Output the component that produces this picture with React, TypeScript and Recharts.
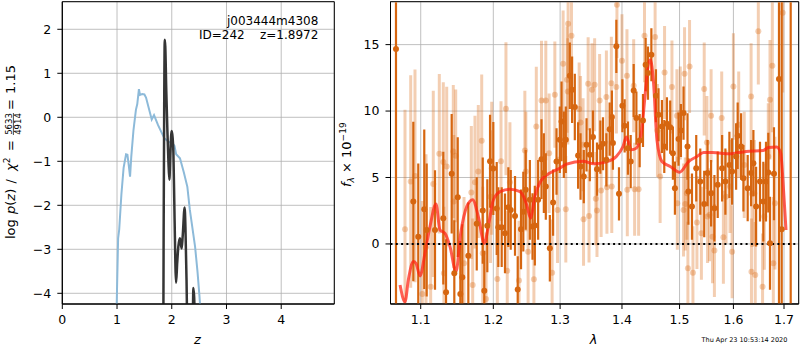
import React from 'react';
import {
  LineChart, Line, XAxis, YAxis, CartesianGrid, ReferenceArea,
  ComposedChart, Scatter, ErrorBar, ReferenceLine,
} from 'recharts';

// ---------- Left panel: log p(z) ----------
const zTicks = [0, 1, 2, 3, 4];
const logpTicks = [-4, -3, -2, -1, 0, 1, 2];
const blueZ = [0.99, 1.0, 1.02, 1.04, 1.08, 1.12, 1.165, 1.19, 1.215, 1.238, 1.26, 1.3, 1.345, 1.37, 1.4, 1.42, 1.46, 1.5, 1.53, 1.634, 1.676, 1.75, 1.865, 1.95, 2.0, 2.03, 2.05, 2.08, 2.15, 2.22, 2.285, 2.33, 2.426, 2.47, 2.505, 2.53];
const blueLogP = [-4.5, -3.9, -2.75, -2.55, -1.75, -1.15, -0.84, -0.85, -1.1, -1.35, -0.9, -0.3, 0.17, 0.3, 0.64, 0.51, 0.53, 0.52, 0.45, -0.05, 0.05, -0.18, -0.48, -0.56, -0.59, -0.62, -0.65, -0.84, -0.93, -1.25, -1.58, -2.1, -2.94, -3.5, -4.04, -4.5];
const blackZ = [1.846, 1.852, 1.862, 1.872, 1.882, 1.9, 1.92, 1.938, 1.956, 1.975, 1.998, 2.015, 2.03, 2.05, 2.079, 2.1, 2.12, 2.15, 2.18, 2.2, 2.235, 2.25, 2.27, 2.285, 2.33, 2.383, 2.395, 2.41, 2.425];
const blackLogP: (number | null)[] = [-5, -2.5, 0.3, 1.76, 1.6, 0.6, -0.3, -0.97, -1.42, -0.8, -0.31, -0.45, -0.8, -2.2, -3.76, -3.3, -2.94, -2.75, -2.98, -2.7, -2.05, -2.5, -3.7, -5, null, -5, -3.88, -4.1, -5];

// ---------- Right panel: spectrum ----------
const lamTicks = [1.1, 1.2, 1.3, 1.4, 1.5, 1.6, 1.7];
const fluxTicks = [0, 5, 10, 15];

const darkLam = [1.0679, 1.0903, 1.0968, 1.1047, 1.1079, 1.119, 1.1302, 1.1339, 1.1416, 1.1452, 1.1499, 1.1535, 1.1562, 1.1646, 1.1764, 1.1849, 1.1871, 1.1914, 1.1953, 1.2, 1.2049, 1.2072, 1.2121, 1.2169, 1.2218, 1.2253, 1.2316, 1.2356, 1.2405, 1.2439, 1.2475, 1.2537, 1.2577, 1.2612, 1.2662, 1.2713, 1.2749, 1.2779, 1.2841, 1.2891, 1.2944, 1.2995, 1.3022, 1.3058, 1.3089, 1.3152, 1.3188, 1.3231, 1.3283, 1.3322, 1.3374, 1.3418, 1.3471, 1.3522, 1.3587, 1.3642, 1.3685, 1.3741, 1.3795, 1.3832, 1.3849, 1.3906, 1.395, 1.4007, 1.4045, 1.4101, 1.4147, 1.4198, 1.4244, 1.43, 1.4357, 1.4403, 1.4443, 1.4502, 1.4582, 1.4627, 1.4687, 1.4728, 1.4775, 1.4833, 1.4881, 1.4917, 1.4982, 1.5025, 1.5072, 1.5144, 1.516, 1.5225, 1.5303, 1.5377, 1.545, 1.5512, 1.5578, 1.564, 1.5702, 1.5785, 1.5847, 1.5923, 1.5975, 1.6052, 1.6082, 1.6148, 1.6193, 1.6276, 1.6343, 1.6388, 1.6441, 1.6518, 1.6584, 1.6637, 1.6683, 1.6717, 1.6797, 1.6898, 1.6953, 1.7137];
const darkFlux = [14.67, 3.19, 0.55, 2.61, 1.05, 1.05, 1.94, -3.64, 5.28, -2.21, 3.52, -3.77, -2.51, -0.88, 1.51, 2.51, -3.52, 1.36, 6.23, 5.67, 2.66, 1.26, 1.26, 0.8, 2.77, 2.56, 2.11, -3.42, 1.1, 2.43, 4.07, 3.32, 1.31, 1.38, 3.32, 6.38, 5.33, 4.32, -0.33, 3.11, 6.2, 7.84, 9.22, 7.46, 7.84, 12.66, 11.6, 10.3, 6.65, 5.83, 5.07, 7.46, 6.71, 8.04, 5.63, 7.29, 7.54, 6.33, 8.64, 9.55, 7.59, 14.87, 3.77, 10.4, 8.89, 7.21, 6.2, 11.55, 9.47, 7.78, 9.29, 13.49, 12.86, 14.24, 11.15, 9.72, 8.84, 7.33, 9.04, 8.79, 6.83, 4.2, 7.89, 8.54, 9.85, 7.33, 3.94, 2.81, 5.7, 4.69, 3.01, 5.33, 3.82, 2.69, 4.45, 5.7, 4.69, 5.95, 5.45, 6.58, 8.14, 7.33, 4.95, 4.2, 5.33, 6.08, 2.81, 4.69, 3.19, 4.69, 5.37, 0.05, 5.28, 12.41, 1.1, 22];
const darkErr = [25, 6, 5.5, 6, 5, 4.5, 5, 4, 4.5, 4, 4.5, 4, 4, 4, 3.5, 4, 3, 3.5, 3.5, 3.5, 3.5, 3, 3, 3, 3, 3, 3, 2.5, 3, 3, 3, 3, 2.5, 3, 3, 3, 3, 2.5, 2.5, 2.5, 2.5, 2.5, 3, 2.5, 2.5, 2.5, 2.5, 2.5, 2.5, 2.5, 2, 2, 2, 2, 2, 2, 2, 2, 2, 2, 2, 2, 2, 2, 2, 2, 2, 2, 2, 2, 2, 2, 2, 2, 2, 2, 2, 2, 2, 2, 2, 2, 2, 2, 2, 2.5, 2.5, 2.5, 2.5, 2.5, 2.5, 2.5, 2.5, 2.5, 2.5, 2.5, 2.5, 2.5, 2.5, 2.5, 2.5, 2.5, 2.5, 2.5, 2.5, 2.5, 3, 3, 3, 3, 3, 3.5, 3.5, 20, 20, 30];

const lightLam = [1.0795, 1.0869, 1.0925, 1.1021, 1.107, 1.1132, 1.1167, 1.1248, 1.1302, 1.131, 1.1348, 1.1438, 1.1445, 1.1471, 1.1586, 1.1688, 1.1707, 1.1739, 1.1786, 1.1834, 1.1849, 1.1896, 1.196, 1.1977, 1.2058, 1.2111, 1.2183, 1.2202, 1.2241, 1.2375, 1.2462, 1.2477, 1.2511, 1.2598, 1.2634, 1.2713, 1.2779, 1.283, 1.2876, 1.2918, 1.296, 1.3047, 1.3089, 1.3109, 1.312, 1.3125, 1.3178, 1.33, 1.3322, 1.3363, 1.337, 1.3444, 1.3458, 1.3506, 1.3549, 1.3568, 1.3587, 1.363, 1.3655, 1.3741, 1.375, 1.3823, 1.383, 1.3906, 1.3916, 1.4, 1.4084, 1.409, 1.4198, 1.4214, 1.4282, 1.4383, 1.4567, 1.4608, 1.4655, 1.4733, 1.4864, 1.4953, 1.496, 1.5013, 1.5072, 1.509, 1.5103, 1.5133, 1.5151, 1.5181, 1.5243, 1.5316, 1.5398, 1.545, 1.55, 1.5512, 1.5549, 1.5578, 1.5604, 1.564, 1.5777, 1.5809, 1.5859, 1.5935, 1.5975, 1.6, 1.6102, 1.6209, 1.6343, 1.635, 1.636, 1.6407, 1.6424, 1.6485, 1.6569, 1.6604, 1.6683, 1.6717, 1.6764, 1.6784, 1.6817, 1.6974];
const lightFlux = [1.1, 4.7, 5.12, -3.77, -0.25, -3.22, 4.52, 6.78, 6.16, -2.21, 5.83, 6.96, 3.19, 6.63, -1.46, 3.87, -3.09, 4.65, 5.45, 7.76, -0.7, -4.14, 3.56, 5.7, -2.64, 6.23, 10.17, -2.01, 4.65, -2.76, 7.03, 5.45, -0.58, -2.66, 8.84, 10.8, 10.8, 6.83, -2.16, 11.23, 2.56, 13.56, 2.61, 12.36, 11.48, 16.58, 15.67, 10.15, 9.14, 7.46, 1.86, 12.06, 2.11, 11.6, 11.98, 3.41, 2.51, 10.8, 4.02, 11.05, 4.27, 12.1, 4.32, 11.81, 18.0, 13.79, 12.66, 4.07, 11.9, 4.12, 4.12, 15.67, 15.58, 8.54, 5.07, 12.91, 11.81, 9.65, 3.07, 9.85, 2.56, 12.81, 3.01, 3.82, -1.83, 13.36, -2.16, 1.61, 0.8, 11.66, 7.63, 2.06, 2.19, 9.65, 0.55, -0.5, 9.47, 0.5, 3.56, 4.32, -0.58, 11.85, 8.97, 5.95, 11.1, -2.09, 3.77, 3.82, -2.34, 16.0, -3.22, 2.06, 6.58, 10.85, 13.41, -1.46, 3.07, 17.39];
const lightErr = [9, 8, 8, 7, 7, 6, 7, 6, 6, 5, 6, 5, 5, 5, 5, 5, 5, 5, 5, 5, 5, 5, 5, 5, 4.5, 4.5, 5, 4.5, 4.5, 4.5, 4.5, 4.5, 4.5, 4.5, 4.5, 4.5, 4.5, 4.5, 4, 4, 4, 4, 4, 4, 4, 4, 4, 3.5, 3.5, 3.5, 3.5, 3.5, 3.5, 3.5, 3.5, 3.5, 3.5, 3.5, 3.5, 3.5, 3.5, 3.5, 3.5, 3.5, 4, 3.5, 3.5, 3.5, 3.5, 3.5, 3.5, 3.5, 3.5, 3.5, 3.5, 3.5, 3.5, 3.5, 3.5, 3.5, 3.5, 3.5, 3.5, 3.5, 3.5, 3.5, 3.5, 3.5, 3.5, 3.5, 3.5, 3.5, 3.5, 3.5, 3.5, 3.5, 3.5, 3.5, 3.5, 3.5, 3.5, 4, 4, 4, 4, 4, 4, 4, 4, 4, 4, 4, 4, 4.5, 5, 5, 5, 6];

const modelLam = [1.0731, 1.0795, 1.0838, 1.0903, 1.0938, 1.0991, 1.1057, 1.1123, 1.1203, 1.1257, 1.1325, 1.1393, 1.1475, 1.154, 1.1624, 1.1707, 1.1786, 1.1871, 1.1928, 1.2, 1.2097, 1.2242, 1.239, 1.249, 1.2547, 1.2612, 1.2713, 1.2841, 1.2995, 1.31, 1.3363, 1.3522, 1.3741, 1.3906, 1.4017, 1.4074, 1.4159, 1.4244, 1.4329, 1.4386, 1.4443, 1.4485, 1.454, 1.4599, 1.4687, 1.4833, 1.5, 1.5163, 1.5316, 1.5438, 1.5608, 1.5923, 1.6245, 1.6583, 1.6683, 1.6851, 1.6933, 1.6986, 1.7041];
const modelFlux = [-3.09, -4.35, -2.71, -1.33, -1.46, -2.41, -0.68, 1.31, 3.01, 1.05, 0.8, -0.2, -2.09, 0.8, 2.81, 3.32, 2.06, 0.05, 1.31, 3.32, 3.94, 4.12, 3.94, 2.94, 1.94, 3.56, 4.82, 5.33, 5.7, 6.0, 6.23, 6.03, 6.18, 6.58, 7.33, 8.04, 7.08, 7.21, 8.34, 10.85, 13.36, 13.87, 12.1, 7.84, 6.2, 5.83, 5.4, 6.2, 6.58, 6.88, 6.88, 6.78, 6.96, 7.03, 7.26, 7.29, 6.83, 4.32, 1.05];

const rows = (xs: number[], ys: (number | null)[]) => xs.map((x, i) => ({ x, y: ys[i] }));
const errRows = (xs: number[], ys: number[], es: number[]) => xs.map((x, i) => ({ x, y: ys[i], e: es[i] }));

const blueData = rows(blueZ, blueLogP);
const blackData = rows(blackZ, blackLogP);
const darkData = errRows(darkLam, darkFlux, darkErr);
const lightData = errRows(lightLam, lightFlux, lightErr);
const modelData = rows(modelLam, modelFlux);

const FONT = 'DejaVu Sans';
const tickStyle = { fontSize: 12.5, fill: '#000', fontFamily: FONT };
const minus = (v: number) => String(v).replace('-', '\u2212');
const ORANGE = 'rgb(214,102,16)';
const LIGHT = 'rgba(217,102,16,0.32)';

const zDom: [number, number] = [0, 4.97];
const pDom: [number, number] = [-4.243, 2.627];
const lDom: [number, number] = [1.0609, 1.7302];
const fDom: [number, number] = [-4.52, 18.23];

const RIGHT_MARGIN = { top: 1.7, right: 1.3, bottom: 2, left: 0 };

function RightAxes() {
  return (
    <>
      <XAxis dataKey="x" type="number" scale="log" domain={lDom} ticks={lamTicks} allowDataOverflow height={44}
        tick={tickStyle} tickSize={5} tickMargin={6} tickFormatter={(v: number) => v.toFixed(1)}
        tickLine={{ stroke: '#000' }} axisLine={{ stroke: '#000' }} />
      <YAxis dataKey="y" type="number" domain={fDom} ticks={fluxTicks} allowDataOverflow width={60.5}
        tick={tickStyle} tickSize={5} tickMargin={6} tickFormatter={minus} tickLine={{ stroke: '#000' }} axisLine={{ stroke: '#000' }} />
    </>
  );
}

export default function App() {
  return (
    <div style={{ position: 'fixed', left: 0, top: 0, width: 800, height: 350, background: '#fff' }}>
      <div style={{ position: 'absolute', left: 0, top: 0 }}>
        <LineChart width={340} height={350} margin={{ top: 1.7, right: 5.7, bottom: 2, left: 0 }}>
          <CartesianGrid stroke="#b0b0b0" strokeWidth={0.8} />
          <XAxis dataKey="x" type="number" domain={zDom} ticks={zTicks} allowDataOverflow height={44}
            tick={tickStyle} tickSize={5} tickMargin={6} tickLine={{ stroke: '#000' }} axisLine={{ stroke: '#000' }} />
          <YAxis type="number" domain={pDom} ticks={logpTicks} allowDataOverflow width={62.3}
            tick={tickStyle} tickSize={5} tickMargin={6} tickFormatter={minus} tickLine={{ stroke: '#000' }} axisLine={{ stroke: '#000' }} />
          <Line data={blueData} dataKey="y" type="linear" stroke="#8dbad9" strokeWidth={2} dot={false} isAnimationActive={false} />
          <Line data={blackData} dataKey="y" type="monotone" stroke="#353535" strokeWidth={2.5} dot={false} isAnimationActive={false} />
          <ReferenceArea x1={zDom[0]} x2={zDom[1]} y1={pDom[0]} y2={pDom[1]} fill="none" stroke="#000" strokeWidth={1} ifOverflow="visible" />
        </LineChart>
      </div>
      {/* right panel: grid, axes and frame */}
      <div style={{ position: 'absolute', left: 330, top: 0 }}>
        <ComposedChart width={470} height={350} margin={RIGHT_MARGIN} data={modelData}>
          <CartesianGrid stroke="#b0b0b0" strokeWidth={0.8} />
          {RightAxes()}
          <ReferenceArea x1={lDom[0]} x2={lDom[1]} y1={fDom[0]} y2={fDom[1]} fill="none" stroke="#000" strokeWidth={1} ifOverflow="visible" />
        </ComposedChart>
      </div>
      {/* right panel: data, clipped to the plot area */}
      <div style={{ position: 'absolute', left: 330, top: 0, width: 470, height: 350, clipPath: 'inset(2.2px 1.8px 46.5px 61px)' }}>
        <ComposedChart width={470} height={350} margin={RIGHT_MARGIN}>
          {RightAxes()}
          <Scatter data={lightData} isAnimationActive={false}
            shape={(p: any) => <circle cx={p.cx} cy={p.cy} r={3} fill={LIGHT} />}>
            <ErrorBar dataKey="e" direction="y" width={0} stroke={LIGHT} strokeWidth={3} />
          </Scatter>
          <Scatter data={darkData} isAnimationActive={false}
            shape={(p: any) => <circle cx={p.cx} cy={p.cy} r={3} fill={ORANGE} />}>
            <ErrorBar dataKey="e" direction="y" width={0} stroke={ORANGE} strokeWidth={2.2} />
          </Scatter>
          <Line data={modelData} dataKey="y" type="monotone" stroke="#ff2010" strokeOpacity={0.72} strokeWidth={3} dot={false} isAnimationActive={false} />
          <ReferenceLine y={0} stroke="#000" strokeWidth={2} strokeDasharray="2 3.3" />
        </ComposedChart>
      </div>
      <svg width={800} height={350} style={{ position: 'absolute', left: 0, top: 0, pointerEvents: 'none' }}
        fontFamily={FONT} fill="#000">
        {/* left y label */}
        <g transform="translate(15,239) rotate(-90)" fontSize={13}>
          <text x={0} y={0}>log</text>
          <text x={25} y={0}><tspan fontStyle="italic">p</tspan>(<tspan fontStyle="italic">z</tspan>)</text>
          <text x={55.5} y={0}>/</text>
          <text x={68} y={0}><tspan fontStyle="italic">χ</tspan><tspan fontSize={9} dy={-5}>2</tspan></text>
          <text x={88} y={0}>=</text>
          <text x={115} y={-3.3} fontSize={8.5} textAnchor="middle">5633</text>
          <line x1={104} x2={126} y1={-1.6} y2={-1.6} stroke="#000" strokeWidth={0.7} />
          <text x={115} y={6} fontSize={8.5} textAnchor="middle">4914</text>
          <text x={129} y={0}>=</text>
          <text x={145} y={0}>1.15</text>
        </g>
        {/* right y label */}
        <g transform="translate(350.7,187) rotate(-90)" fontSize={13}>
          <text x={0} y={0}><tspan fontStyle="italic">f</tspan><tspan fontStyle="italic" fontSize={9} dy={3}>λ</tspan><tspan dy={-3}> × 10</tspan><tspan fontSize={9} dy={-5}>−19</tspan></text>
        </g>
        <text x={197.5} y={344} fontSize={13} fontStyle="italic" textAnchor="middle">z</text>
        <text x={593.5} y={344} fontSize={13} fontStyle="italic" textAnchor="middle">λ</text>
        <text x={318.3} y={25} fontSize={12} textAnchor="end">j003444m4308</text>
        <text x={318.3} y={38.7} fontSize={12} textAnchor="end" style={{ whiteSpace: 'pre' }}>{'ID=242    z=1.8972'}</text>
        <text x={787.3} y={341.5} fontSize={6.5} textAnchor="end">Thu Apr 23 10:53:14 2020</text>
      </svg>
    </div>
  );
}
